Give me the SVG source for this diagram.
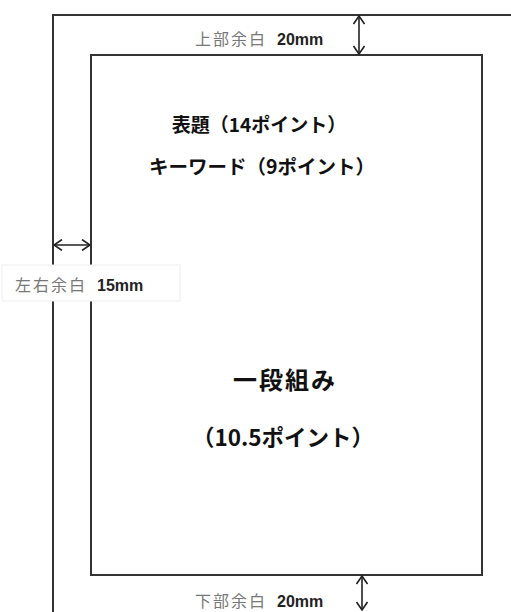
<svg xmlns="http://www.w3.org/2000/svg" width="511" height="612" viewBox="0 0 511 612">
<style>
.frame{fill:none;stroke:#333;stroke-width:2}
.page{fill:#fff;stroke:#333;stroke-width:2}
.dim{stroke:#222;stroke-width:1.6;fill:none}
.lbl{font-family:"Noto Sans CJK JP","Liberation Sans",sans-serif;font-size:16px;fill:#777;letter-spacing:2px}
.num{font-family:"Liberation Sans","Noto Sans CJK JP",sans-serif;font-size:16px;font-weight:bold;fill:#222;letter-spacing:0}
.body{font-family:"Noto Sans CJK JP","Liberation Sans",sans-serif;font-weight:bold;fill:#111}
</style>
<defs>
<marker id="ah" viewBox="0 0 10 12" refX="9" refY="6" markerWidth="10" markerHeight="12" markerUnits="userSpaceOnUse" orient="auto-start-reverse">
<path d="M1,0.5 L9,6 L1,11.5" fill="none" stroke="#222" stroke-width="1.6"/>
</marker>
</defs>
<g id="outer-frame">
<path class="frame" d="M53,612 V15 H511"/>
</g>
<g id="page">
<rect class="page" x="91" y="55" width="391" height="520"/>
<text class="body" x="259" y="132" font-size="19" text-anchor="middle">表題（14ポイント）</text>
<text class="body" x="262" y="174" font-size="19.5" text-anchor="middle">キーワード（9ポイント）</text>
<text class="body" x="285" y="389" font-size="24" text-anchor="middle" letter-spacing="2">一段組み</text>
<text class="body" x="283" y="446" font-size="22.5" text-anchor="middle">（10.5ポイント）</text>
</g>
<g id="connectors">
<line class="dim" x1="359" y1="16" x2="359" y2="54" marker-start="url(#ah)" marker-end="url(#ah)"/>
<line class="dim" x1="54" y1="245" x2="90" y2="245" marker-start="url(#ah)" marker-end="url(#ah)"/>
<line class="dim" x1="362" y1="576" x2="362" y2="610" marker-start="url(#ah)" marker-end="url(#ah)"/>
</g>
<g id="top-label">
<text x="195" y="45"><tspan class="lbl">上部余白</tspan><tspan class="num" dx="10">20mm</tspan></text>
</g>
<g id="side-label">
<rect x="2" y="265" width="178" height="36" fill="#fff" stroke="#eee" stroke-width="1"/>
<text x="15" y="291"><tspan class="lbl">左右余白</tspan><tspan class="num" dx="10">15mm</tspan></text>
</g>
<g id="bottom-label">
<text x="195" y="607"><tspan class="lbl">下部余白</tspan><tspan class="num" dx="10">20mm</tspan></text>
</g>
</svg>
